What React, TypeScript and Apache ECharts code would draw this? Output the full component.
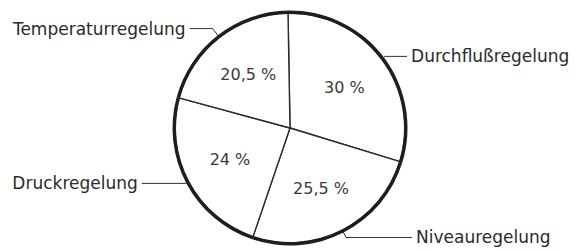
import React, { useEffect, useRef } from "react";
import * as echarts from "echarts";

const categories = ["Durchflußregelung", "Niveauregelung", "Druckregelung", "Temperaturregelung"];
const shares = [30, 25.5, 24, 20.5];
const shareLabels = ["30 %", "25,5 %", "24 %", "20,5 %"];
const leaderLengths = [4, 8, 3, 11];
const leaderLengths2 = [22, 66, 44, 23];
const labelPads = [[14, 0, 0, 0], [0, 0, 0, 0], [0, 0, 0, 0], [0, 0, 0, 0]];

export default function App() {
  const ref = useRef<HTMLDivElement>(null);
  useEffect(() => {
    if (!ref.current) return;
    const chart = echarts.init(ref.current, undefined, { renderer: "svg" });
    const center = [290, 128];
    const R = 115;
    chart.setOption({
      animation: false,
      backgroundColor: "#ffffff",
      series: [
        {
          type: "pie",
          silent: true,
          center,
          radius: [0, R],
          startAngle: 91,
          clockwise: true,
          avoidLabelOverlap: false,
          itemStyle: { color: "#ffffff", borderColor: "#2a2a2a", borderWidth: 1.4 },
          label: {
            show: true,
            position: "outside",
            formatter: "{b}",
            color: "#2a2a2a",
            fontFamily: "DejaVu Sans",
            fontSize: 17,
            distanceToLabelLine: 4,
          },
          labelLine: { show: true, lineStyle: { color: "#333", width: 1 } },
          data: categories.map((c, i) => ({
            name: c,
            value: shares[i],
            label: { padding: labelPads[i] },
            labelLine: { length: leaderLengths[i], length2: leaderLengths2[i] },
          })),
        },
        {
          type: "pie",
          silent: true,
          center,
          radius: [R - 1, R + 2.5],
          startAngle: 91,
          label: { show: false },
          labelLine: { show: false },
          itemStyle: { color: "#1e1e1e", borderWidth: 0 },
          data: categories.map((c, i) => ({ name: c, value: shares[i] })),
        },
        {
          type: "pie",
          silent: true,
          center,
          radius: [0, 130],
          startAngle: 91,
          itemStyle: { color: "rgba(0,0,0,0)", borderWidth: 0 },
          label: {
            show: true,
            position: "inside",
            formatter: (p: any) => shareLabels[p.dataIndex],
            color: "#3a3a3a",
            fontFamily: "DejaVu Sans",
            fontSize: 16,
          },
          labelLine: { show: false },
          data: categories.map((c, i) => ({ name: c, value: shares[i] })),
        },
      ],
    });
    return () => chart.dispose();
  }, []);
  return (
    <div
      ref={ref}
      style={{ position: "absolute", left: 0, top: 0, width: 578, height: 251 }}
    />
  );
}
